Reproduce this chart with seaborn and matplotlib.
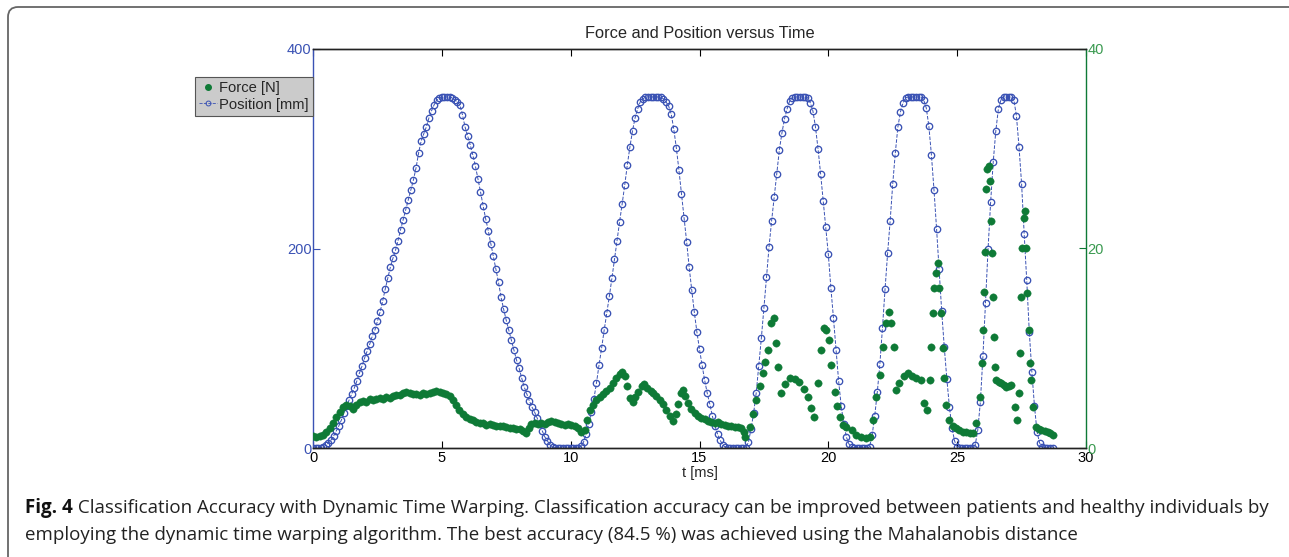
import matplotlib
matplotlib.use("Agg")
import matplotlib.pyplot as plt
from matplotlib.lines import Line2D
from matplotlib.patches import FancyBboxPatch
from matplotlib.transforms import IdentityTransform
import pandas as pd
import seaborn as sns

sns.set_theme(style="white")
plt.rcParams['font.family'] = ['Liberation Sans', 'DejaVu Sans']

# position trace [mm], one pair of lists per stroke
t_pos_1 = [0.0, 0.1, 0.2, 0.3, 0.4, 0.5, 0.6, 0.7, 0.8, 0.9, 1.0, 1.1, 1.2, 1.3, 1.4, 1.5,
           1.6, 1.7, 1.8, 1.9, 2.0, 2.1, 2.2, 2.3, 2.4, 2.5, 2.6, 2.7, 2.8, 2.9, 3.0, 3.1,
           3.2, 3.3, 3.4, 3.5, 3.6, 3.7, 3.8, 3.9, 4.0, 4.1, 4.2, 4.3, 4.4, 4.5, 4.6, 4.7,
           4.8, 4.9, 5.0, 5.1, 5.2, 5.3, 5.4, 5.5, 5.6, 5.7, 5.8, 5.9, 6.0, 6.1, 6.2, 6.3,
           6.4, 6.5, 6.6, 6.7, 6.8, 6.9, 7.0, 7.1, 7.2, 7.3, 7.4, 7.5, 7.6, 7.7, 7.8, 7.9,
           8.0, 8.1, 8.2, 8.3, 8.4, 8.5, 8.6, 8.7, 8.8, 8.9, 9.0, 9.1, 9.2, 9.3, 9.4, 9.5,
           9.6, 9.7, 9.8, 9.9, 10.0, 10.1, 10.2, 10.3]
pos_1 = [0, 0, 0, 0, 1, 3, 5, 8, 12, 17, 22, 28, 35, 42, 48, 54,
         60, 67, 75, 82, 90, 97, 104, 112, 118, 127, 136, 147, 159, 170, 181, 190,
         198, 208, 219, 229, 239, 249, 259, 269, 281, 296, 308, 315, 322, 331, 338, 344,
         349, 351, 352, 352, 352, 352, 351, 349, 347, 344, 334, 322, 313, 304, 294, 283,
         270, 257, 243, 230, 218, 205, 192, 179, 166, 151, 139, 128, 118, 108, 98, 88,
         80, 70, 61, 54, 47, 41, 36, 30, 24, 17, 11, 7, 3, 1, 0, 0,
         0, 0, 0, 0, 0, 0, 0, 0]
t_pos_2 = [10.4, 10.5, 10.6, 10.7, 10.8, 10.9, 11.0, 11.1, 11.2, 11.3, 11.4, 11.5, 11.6,
           11.7, 11.8, 11.9, 12.0, 12.1, 12.2, 12.3, 12.4, 12.5, 12.6, 12.7, 12.8, 12.9,
           13.0, 13.1, 13.2, 13.3, 13.4, 13.5, 13.6, 13.7, 13.8, 13.9, 14.0, 14.1, 14.2,
           14.3, 14.4, 14.5, 14.6, 14.7, 14.8, 14.9, 15.0, 15.1, 15.2, 15.3, 15.4, 15.5,
           15.6, 15.7, 15.8, 15.9, 16.0, 16.1, 16.2, 16.3, 16.4, 16.5, 16.6, 16.7, 16.8]
pos_2 = [2, 6, 14, 24, 36, 49, 65, 83, 100, 118, 135, 152, 170,
         189, 208, 227, 245, 264, 284, 302, 318, 331, 340, 347, 350, 352,
         352, 352, 352, 352, 352, 352, 350, 347, 343, 335, 320, 301, 279,
         255, 231, 207, 181, 158, 136, 116, 99, 83, 68, 55, 44, 32,
         22, 14, 8, 3, 1, 0, 0, 0, 0, 0, 0, 0, 0]
t_pos_3 = [16.9, 17.0, 17.1, 17.2, 17.3, 17.4, 17.5, 17.6, 17.7, 17.8, 17.9, 18.0, 18.1,
           18.2, 18.3, 18.4, 18.5, 18.6, 18.7, 18.8, 18.9, 19.0, 19.1, 19.2, 19.3, 19.4,
           19.5, 19.6, 19.7, 19.8, 19.9, 20.0, 20.1, 20.2, 20.3, 20.4, 20.5, 20.6, 20.7,
           20.8, 20.9, 21.0, 21.1, 21.2, 21.3, 21.4, 21.5, 21.6]
pos_3 = [6, 19, 35, 55, 82, 110, 140, 171, 202, 228, 252, 275, 299,
         316, 330, 340, 348, 351, 352, 352, 352, 352, 352, 351, 346, 338,
         322, 300, 275, 248, 222, 194, 160, 130, 98, 67, 42, 24, 11,
         4, 1, 0, 0, 0, 0, 0, 0, 1]
t_pos_4 = [21.7, 21.8, 21.9, 22.0, 22.1, 22.2, 22.3, 22.4, 22.5, 22.6, 22.7, 22.8, 22.9,
           23.0, 23.1, 23.2, 23.3, 23.4, 23.5, 23.6, 23.7, 23.8, 23.9, 24.0, 24.1, 24.2,
           24.3, 24.4, 24.5, 24.6, 24.7, 24.8, 24.9, 25.0, 25.1, 25.2, 25.3, 25.4, 25.5,
           25.6, 25.7]
pos_4 = [13, 32, 56, 84, 120, 159, 195, 228, 265, 296, 322, 337, 346,
         351, 352, 352, 352, 352, 352, 352, 349, 341, 323, 294, 259, 220,
         179, 137, 101, 69, 41, 20, 7, 1, 0, 0, 0, 0, 0,
         0, 3]
t_pos_5 = [25.8, 25.9, 26.0, 26.1, 26.2, 26.3, 26.4, 26.5, 26.6, 26.7, 26.8, 26.9, 27.0,
           27.1, 27.2, 27.3, 27.4, 27.5, 27.6, 27.7, 27.8, 27.9, 28.0, 28.1, 28.2, 28.3,
           28.4, 28.5, 28.6, 28.7]
pos_5 = [18, 46, 92, 145, 200, 247, 287, 318, 340, 349, 352, 352, 352,
         352, 349, 333, 302, 265, 215, 168, 116, 76, 42, 16, 5, 1,
         0, 0, 0, 0]

# force trace [N]
t_force = [0.0, 0.13, 0.26, 0.39, 0.52, 0.65, 0.78, 0.9, 1.03, 1.16, 1.29, 1.42, 1.55, 1.68,
           1.81, 1.94, 2.07, 2.2, 2.33, 2.46, 2.59, 2.72, 2.85, 2.98, 3.1, 3.23, 3.36, 3.49,
           3.62, 3.75, 3.88, 4.01, 4.14, 4.27, 4.4, 4.53, 4.66, 4.79, 4.92, 5.04, 5.17, 5.3,
           5.42, 5.55, 5.68, 5.81, 5.95, 6.08, 6.21, 6.34, 6.47, 6.6, 6.73, 6.86, 6.98, 7.11,
           7.24, 7.37, 7.5, 7.63, 7.76, 7.89, 8.02, 8.15, 8.28, 8.38, 8.47, 8.6, 8.73, 8.86,
           8.99, 9.12, 9.25, 9.38, 9.51, 9.64, 9.77, 9.9, 10.03, 10.16, 10.29, 10.42,
           10.55, 10.65, 10.74, 10.87, 11.0, 11.13, 11.26, 11.38, 11.51, 11.64, 11.77, 11.9,
           12.0, 12.1, 12.2, 12.3, 12.4, 12.5, 12.62, 12.75, 12.85, 12.98, 13.1, 13.2, 13.33,
           13.46, 13.58, 13.71, 13.84, 13.97, 14.07, 14.17, 14.3, 14.36, 14.45, 14.55, 14.68,
           14.81, 14.94, 15.07, 15.2, 15.33, 15.46, 15.59, 15.72, 15.85, 15.98, 16.11, 16.24,
           16.37, 16.5, 16.63, 16.72, 16.78,
           16.95, 17.07, 17.2, 17.33, 17.46, 17.56, 17.66, 17.79, 17.88, 17.95, 18.05, 18.18,
           18.3, 18.5, 18.7, 18.88, 19.05, 19.21, 19.33, 19.43, 19.6, 19.73, 19.85, 19.92,
           20.02, 20.11, 20.24, 20.34, 20.44, 20.57, 20.7, 20.9, 21.09, 21.28, 21.47, 21.6,
           21.73, 21.86, 21.99, 22.12, 22.25, 22.35, 22.44, 22.53, 22.61, 22.76, 22.92, 23.09,
           23.25, 23.41, 23.6, 23.73, 23.83, 23.93, 23.99, 24.06, 24.12, 24.18, 24.25, 24.31,
           24.39, 24.44, 24.5, 24.57, 24.7, 24.83, 24.96, 25.09, 25.22, 25.35, 25.48, 25.61,
           25.74, 25.87, 25.97, 26.02, 26.06, 26.09, 26.13, 26.17, 26.23, 26.29, 26.33, 26.36,
           26.39, 26.43, 26.48, 26.52, 26.62, 26.71, 26.81, 26.91, 27.0, 27.1, 27.23, 27.32,
           27.4, 27.42, 27.46, 27.52, 27.58, 27.64, 27.68, 27.72, 27.77, 27.84, 27.88, 27.94,
           28.05, 28.16, 28.27, 28.4, 28.52, 28.62, 28.71]
force = [1.2, 1.1, 1.2, 1.3, 1.6, 2.0, 2.5, 3.1, 3.6, 4.1, 4.3, 4.2, 3.9, 4.3,
         4.6, 4.7, 4.6, 4.9, 4.8, 4.9, 5.0, 4.9, 5.1, 5.0, 5.2, 5.3, 5.3, 5.5,
         5.6, 5.5, 5.4, 5.4, 5.3, 5.5, 5.4, 5.5, 5.6, 5.7, 5.6, 5.5, 5.4, 5.2,
         4.8, 4.3, 3.8, 3.4, 3.1, 2.9, 2.8, 2.6, 2.5, 2.5, 2.3, 2.4, 2.3, 2.2,
         2.2, 2.2, 2.1, 2.0, 2.0, 1.9, 1.9, 1.7, 1.5, 2.0, 2.4, 2.5, 2.4, 2.5,
         2.4, 2.6, 2.7, 2.6, 2.5, 2.4, 2.3, 2.4, 2.3, 2.2, 2.0, 1.6,
         1.8, 2.8, 3.8, 4.3, 4.8, 5.1, 5.4, 5.7, 6.0, 6.5, 7.0, 7.4,
         7.6, 7.2, 6.2, 5.0, 4.6, 5.1, 5.6, 6.2, 6.4, 6.0, 5.7, 5.5, 5.2,
         4.8, 4.4, 3.8, 3.2, 2.7, 3.4, 4.4, 5.5, 5.8, 5.2, 4.5, 3.9,
         3.5, 3.2, 3.0, 2.9, 2.7, 2.6, 2.5, 2.6, 2.4, 2.3, 2.2, 2.2,
         2.1, 2.1, 2.0, 1.6, 1.1,
         2.1, 3.4, 4.8, 6.2, 7.5, 8.6, 9.8, 12.5, 13.0, 10.5, 8.1, 5.5,
         6.4, 7.0, 6.9, 6.6, 5.9, 5.1, 4.0, 3.1, 6.5, 9.8, 12.0, 11.8,
         10.8, 8.3, 5.6, 4.2, 3.1, 2.3, 2.1, 1.8, 1.3, 1.1, 0.97, 1.1,
         2.8, 5.1, 7.3, 10.1, 12.5, 13.6, 12.5, 10.1, 5.8, 6.5, 7.2, 7.5,
         7.2, 7.0, 6.8, 4.5, 3.8, 6.8, 10.1, 13.5, 16.0, 17.5, 18.5, 16.0,
         13.5, 10.0, 7.0, 4.3, 2.8, 2.2, 1.97, 1.8, 1.6, 1.6, 1.5, 1.5,
         2.5, 5.1, 8.5, 11.8, 15.6, 19.6, 26.0, 28.0, 28.3, 26.8, 22.8, 19.5,
         15.1, 11.1, 8.1, 6.8, 6.6, 6.5, 6.3, 6.1, 6.2, 6.3, 4.1, 2.8,
         5.5, 9.5, 15.1, 20.1, 23.1, 23.8, 20.1, 15.5, 11.8, 8.5, 6.8, 4.1,
         2.1, 1.9, 1.8, 1.7, 1.6, 1.5, 1.3]

title = "Force and Position versus Time"
caption_bold = "Fig. 4"
caption_1 = (" Classification Accuracy with Dynamic Time Warping. Classification accuracy can be "
             "improved between patients and healthy individuals by")
caption_2 = ("employing the dynamic time warping algorithm. The best accuracy (84.5 %) was "
             "achieved using the Mahalanobis distance")

blue = "#3a52b4"
green = "#0e7a36"
W, H = 1289, 557

pos_df = pd.DataFrame({"t": t_pos_1 + t_pos_2 + t_pos_3 + t_pos_4 + t_pos_5,
                       "pos": pos_1 + pos_2 + pos_3 + pos_4 + pos_5})
force_df = pd.DataFrame({"t": t_force, "force": force})

fig = plt.figure(figsize=(W / 100, H / 100), dpi=100)
fig.patch.set_facecolor("white")
ax = fig.add_axes([313 / W, 1 - 448 / H, (1086 - 313) / W, (448 - 49) / H])
ax2 = ax.twinx()

sns.lineplot(data=pos_df, x="t", y="pos", ax=ax, color=blue, linestyle="--", linewidth=0.7,
             marker="o", markersize=4.6, markerfacecolor="none", markeredgecolor=blue,
             markeredgewidth=0.95, sort=False)
sns.scatterplot(data=force_df, x="t", y="force", ax=ax2, color=green, s=28,
                edgecolor=green, linewidth=0.3)

ax.set_xlim(0, 30)
ax.set_ylim(0, 400)
ax2.set_ylim(0, 40)
ax.set_xticks(range(0, 31, 5))
ax.set_yticks([0, 200, 400])
ax2.set_yticks([0, 20, 40])
ax.set_xlabel("t [ms]", fontsize=10.5, labelpad=1)
ax.set_ylabel("")
ax2.set_ylabel("")
ax.set_title(title, fontsize=11.8, pad=8)

ax.tick_params(axis="x", direction="in", top=True, bottom=True, length=5, width=0.8,
               labelsize=10.5, pad=2, colors="black")
ax.tick_params(axis="y", direction="in", left=True, right=False, length=5, width=0.8,
               labelsize=10.5, pad=1, colors=blue, labelcolor=blue)
ax2.tick_params(axis="y", direction="in", right=True, left=False, length=5, width=0.8,
                labelsize=10.5, pad=1, colors=green, labelcolor="#3a9a50")
for a in (ax, ax2):
    for s in a.spines.values():
        s.set_linewidth(1.0)
        s.set_color("#222222")
ax.spines["left"].set_color(blue)
ax2.spines["left"].set_visible(False)
ax2.spines["right"].set_color(green)
ax.spines["right"].set_visible(False)

handles = [Line2D([], [], color=green, marker="o", linestyle="none", markersize=4),
           Line2D([], [], color=blue, linestyle="--", linewidth=0.6, marker="o",
                  markersize=3.5, markerfacecolor="none", markeredgewidth=0.7)]
leg = fig.legend(handles, ["Force [N]", "Position [mm]"], loc="upper right",
                 bbox_to_anchor=(313 / W, 1 - 77 / H), fontsize=10.6, frameon=True,
                 fancybox=False, framealpha=1, facecolor="#cbcbcb", edgecolor="#555555",
                 borderpad=0.3, labelspacing=0.15, handlelength=1.2, handletextpad=0.15,
                 borderaxespad=0)
leg.get_frame().set_linewidth(0.8)

# outer frame of the figure panel
fig.patches.append(FancyBboxPatch((8, -30), 1400, H - 7 + 30,
                                  boxstyle="round,pad=0,rounding_size=10",
                                  transform=IdentityTransform(), facecolor="none",
                                  edgecolor="#666666", linewidth=1.3, figure=fig))

# caption
cap_font = ['Open Sans', 'DejaVu Sans']
fig.canvas.draw()
r = fig.canvas.get_renderer()
size = 12.5
tb = fig.text(25 / W, 1 - 508 / H, caption_bold, fontsize=size, fontweight="bold",
              family=cap_font, va="center", ha="left", color="#111111")
t1 = fig.text(0, 1 - 508 / H, caption_1, fontsize=size, family=cap_font, va="center",
              ha="left", color="#222222")
wb = tb.get_window_extent(r).width
w1 = t1.get_window_extent(r).width
size = size * (1277 - 25) / (wb + w1)
tb.set_fontsize(size)
t1.set_fontsize(size)
wb = tb.get_window_extent(r).width
t1.set_x((25 + wb) / W)
fig.text(25 / W, 1 - 535 / H, caption_2, fontsize=size, family=cap_font, va="center",
         ha="left", color="#222222")

fig.savefig("out.png", dpi=100)
